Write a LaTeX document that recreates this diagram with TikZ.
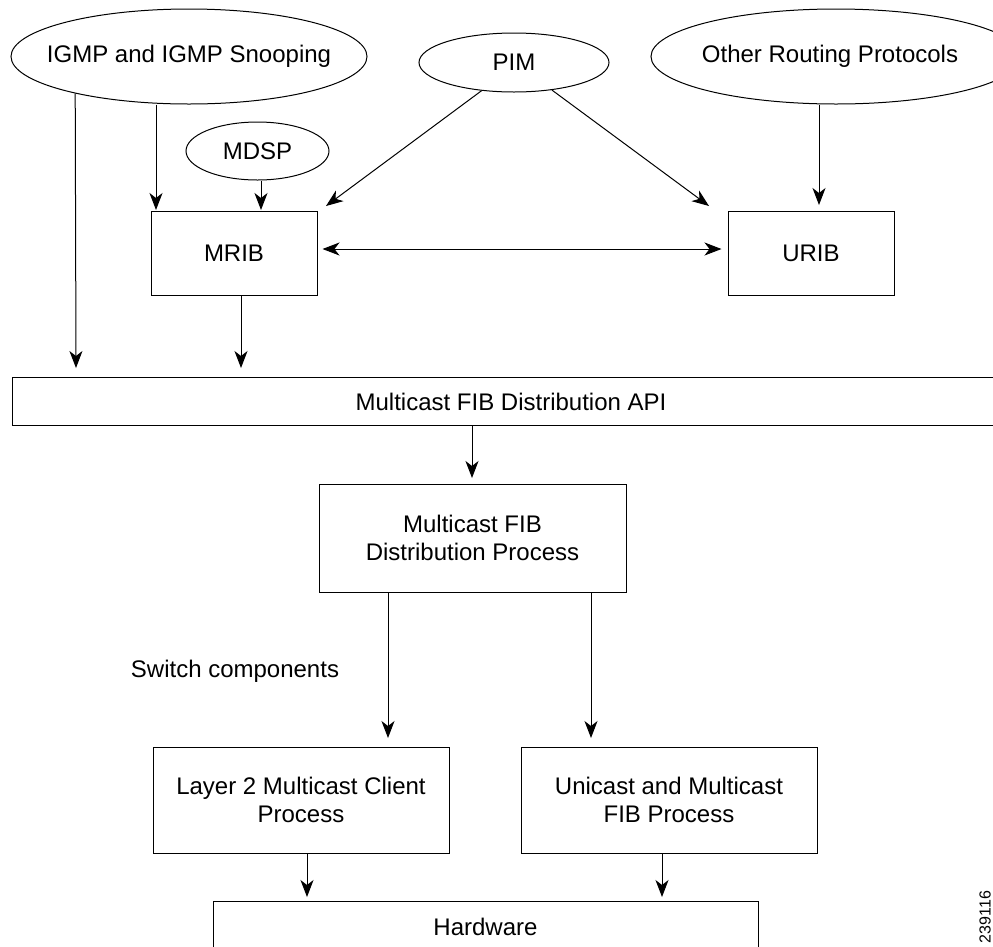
\documentclass[tikz,border=0pt]{standalone}
\usepackage{fontspec}
\setmainfont{Liberation Sans}
\usetikzlibrary{shapes.geometric,arrows.meta}
\begin{document}
\begin{tikzpicture}[x=1pt,y=-1pt,line width=1pt,
  lbl/.style={font=\fontsize{24}{28}\selectfont},
  box/.style={lbl,draw,rectangle,inner sep=0pt,align=center},
  oval/.style={lbl,draw,ellipse,inner sep=0pt},
  tip/.tip={Stealth[length=17pt,width=13pt,inset=5pt]},
  arr/.style={-tip},
  arrtwo/.style={tip-tip}]
\useasboundingbox (0,0) rectangle (993,946);
\clip (0,0) rectangle (993,946);
% ellipses
\node[oval,minimum width=356pt,minimum height=95pt] (igmp) at (189,56.5) {\makebox[0pt]{IGMP and IGMP Snooping}};
\node[oval,minimum width=190pt,minimum height=59pt] (pim) at (514,62.5) {\makebox[0pt]{PIM}};
\node[oval,minimum width=370pt,minimum height=95pt] (other) at (836,56.5) {\makebox[0pt]{Other Routing Protocols\hspace{12pt}}};
\node[oval,minimum width=143pt,minimum height=58pt] (mdsp) at (257.5,151) {\makebox[0pt]{MDSP}};
% boxes
\node[box,minimum width=166pt,minimum height=84pt] (mrib) at (234,253) {MRIB};
\node[box,minimum width=166pt,minimum height=84pt] (urib) at (811,253) {URIB};
\node[box,minimum width=998pt,minimum height=47.6pt] (api) at (511,401.5) {Multicast FIB Distribution API};
\node[box,minimum width=307pt,minimum height=108pt] (fdp) at (472.5,538) {Multicast FIB\\Distribution Process};
\node[box,minimum width=296pt,minimum height=106pt] (l2) at (301,800) {Layer 2 Multicast Client\\Process};
\node[box,minimum width=296pt,minimum height=106pt] (ufib) at (669,800) {Unicast and Multicast\\FIB Process};
\node[box,minimum width=545pt,minimum height=51pt] (hw) at (485.5,926.5) {Hardware};
% free texts
\node[lbl,anchor=base,inner sep=0pt] (sc) at (235,677) {Switch components};
\node[font=\fontsize{16}{18}\selectfont,rotate=90,inner sep=0pt] (num) at (985,917) {239116};
% arrow tips
\coordinate (t1) at (76,368);
\coordinate (t2) at (156,210);
\coordinate (t3) at (261,210);
\coordinate (tpm) at (326,206);
\coordinate (tpu) at (709,206);
\coordinate (t4) at (819,205);
\coordinate (t6) at (241,368);
\coordinate (t7) at (472,478);
\coordinate (t8) at (388,738);
\coordinate (t9) at (591,738);
\coordinate (t10) at (307,897);
\coordinate (t11) at (662,897);
% connectors
\draw[arr] (igmp.198) -- (t1);
\draw[arr] (igmp.south -| t2) -- (t2);
\draw[arr] (mdsp.south -| t3) -- (t3);
\draw[arr] (pim.221) -- (tpm);
\draw[arr] (pim.-36) -- (tpu);
\draw[arr] (other.south -| t4) -- (t4);
\draw[arrtwo] ([xshift=5pt,yshift=4pt]mrib.east) -- ([xshift=-6pt,yshift=4pt]urib.west);
\draw[arr] (mrib.south -| t6) -- (t6);
\draw[arr] (api.south -| t7) -- (t7);
\draw[arr] (fdp.south -| t8) -- (t8);
\draw[arr] (fdp.south -| t9) -- (t9);
\draw[arr] (l2.south -| t10) -- (t10);
\draw[arr] (ufib.south -| t11) -- (t11);
\end{tikzpicture}
\end{document}
